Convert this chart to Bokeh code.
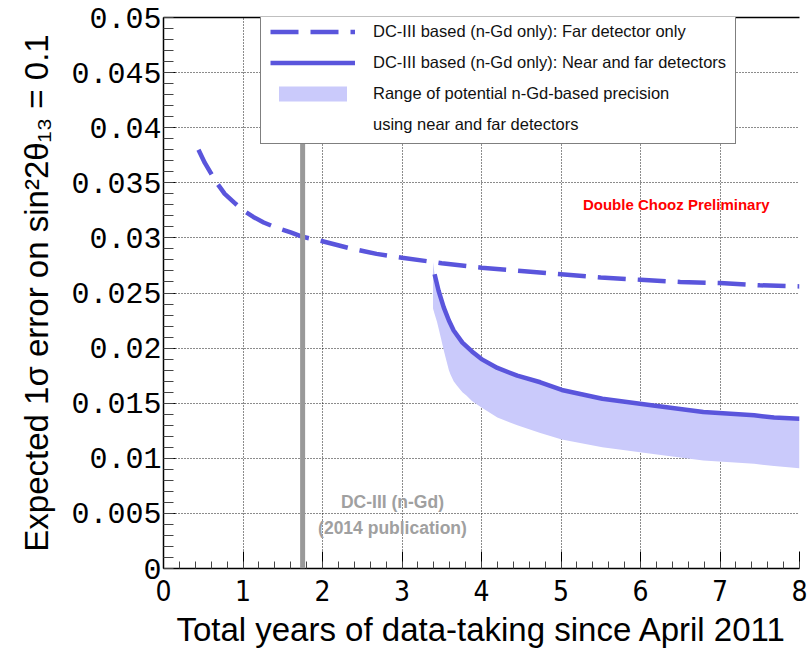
from bokeh.plotting import figure
from bokeh.models import (ColumnDataSource, Span, Legend, LegendItem, LinearAxis,
                          SingleIntervalTicker, FixedTicker, CustomJSTickFormatter, Range1d)
from bokeh.core.properties import value
from bokeh.embed import file_html
from bokeh.resources import INLINE

# ---- data ----
far_years = [0.44, 0.52, 0.61, 0.67, 0.77, 0.89, 1.0, 1.13, 1.26, 1.43, 1.6, 1.75,
             2.0, 2.35, 2.68, 3.0, 3.5, 4.0, 4.5, 5.0, 5.5, 6.0, 6.5, 7.0, 7.5, 8.0]
far_err = [0.0380, 0.0368, 0.0357, 0.0350, 0.0340, 0.0332, 0.0325, 0.0319, 0.0314,
           0.0309, 0.0305, 0.0301, 0.0297, 0.02905, 0.02855, 0.0282, 0.0277, 0.0273,
           0.0270, 0.0267, 0.0264, 0.0262, 0.0260, 0.0259, 0.0257, 0.0256]

nf_years = [3.41, 3.46, 3.525, 3.59, 3.65, 3.76, 3.88, 4.0, 4.2, 4.45, 4.74, 5.01,
            5.52, 6.16, 6.79, 7.43, 7.68, 8.0]
nf_err = [0.0267, 0.0252, 0.0237, 0.0225, 0.0216, 0.0205, 0.0197, 0.0190, 0.0182,
          0.0175, 0.0169, 0.0162, 0.0154, 0.0148, 0.0142, 0.0139, 0.0137, 0.0136]

band_years = [3.39, 3.41, 3.44, 3.46, 3.49, 3.525, 3.55, 3.59, 3.61, 3.65, 3.69, 3.76,
              3.81, 3.88, 4.0, 4.2, 4.45, 4.74, 5.01, 5.52, 6.16, 6.79, 7.43, 7.68, 8.0]
band_hi = [0.0278, 0.0267, 0.0258, 0.0252, 0.0244, 0.0237, 0.0232, 0.0225, 0.0222,
           0.0216, 0.0212, 0.0205, 0.0201, 0.0197, 0.0190, 0.0182, 0.0175, 0.0169,
           0.0162, 0.0154, 0.0148, 0.0142, 0.0139, 0.0137, 0.0136]
band_lo = [0.0236, 0.0231, 0.0224, 0.0218, 0.0209, 0.0198, 0.0191, 0.0180, 0.0176,
           0.0170, 0.0166, 0.0160, 0.0157, 0.0152, 0.0146, 0.0137, 0.0130, 0.0123,
           0.0117, 0.0110, 0.0104, 0.0098, 0.0095, 0.0093, 0.0091]

dc3_year = 1.75
dc3_text = ["DC-III (n-Gd)", "(2014 publication)"]
dc3_text_x = [2.88, 2.88]
dc3_text_y = [0.0060, 0.0037]
prelim_text = ["Double Chooz Preliminary"]
prelim_x = [6.45]
prelim_y = [0.0330]

legend_labels = ["DC-III based (n-Gd only): Far detector only",
                 "DC-III based (n-Gd only): Near and far detectors",
                 "Range of potential n-Gd-based precision",
                 "using near and far detectors"]

BLUE = "#5a55dc"
BAND = "#cacafb"

p = figure(width=808, height=655, output_backend="svg", toolbar_location=None,
           x_range=Range1d(0, 8), y_range=Range1d(0, 0.05),
           min_border_left=163, min_border_right=9, min_border_top=17,
           min_border_bottom=87)
p.outline_line_color = None
p.background_fill_color = "white"
p.border_fill_color = "white"

band = p.varea(x=band_years, y1=band_lo, y2=band_hi, fill_color=BAND)
far = p.line(far_years, far_err, line_color=BLUE, line_width=4.5, line_dash="28 12")
nf = p.line(nf_years, nf_err, line_color=BLUE, line_width=4.5)
dummy = p.line([], [], line_alpha=0)

span = Span(location=dc3_year, dimension="height", line_color="#999999", line_width=5)
p.add_layout(span)

src1 = ColumnDataSource(dict(x=dc3_text_x, y=dc3_text_y, t=dc3_text))
p.text(x="x", y="y", text="t", source=src1, text_align="center", text_baseline="middle",
       text_color="#a0a0a0", text_font=value("Liberation Sans"), text_font_style="bold",
       text_font_size="17.5px")
src2 = ColumnDataSource(dict(x=prelim_x, y=prelim_y, t=prelim_text))
p.text(x="x", y="y", text="t", source=src2, text_align="center", text_baseline="middle",
       text_color="#ff0000", text_font=value("Liberation Sans"), text_font_style="bold",
       text_font_size="15px")

# axes
xax = p.xaxis[0]
yax = p.yaxis[0]
xax.ticker = SingleIntervalTicker(interval=1, num_minor_ticks=5)
yax.ticker = SingleIntervalTicker(interval=0.005, num_minor_ticks=5)
yax.formatter = CustomJSTickFormatter(code="""
var s = tick.toFixed(3).replace(/0+$/, '').replace(/\\.$/, '');
return s;""")
for ax in (xax, yax):
    ax.axis_line_color = "black"
    ax.axis_line_width = 1.5
    ax.major_tick_out = 0
    ax.minor_tick_out = 0
    ax.major_tick_line_color = "black"
    ax.minor_tick_line_color = "#444444"
    ax.axis_label_text_font = "Liberation Sans"
    ax.axis_label_text_font_style = "normal"
    ax.axis_label_text_font_size = "33px"
    ax.axis_label_text_color = "black"
    ax.major_label_text_color = "black"
xax.major_tick_in = 17
xax.minor_tick_in = 7
yax.major_tick_in = 12
yax.minor_tick_in = 10
xax.major_label_text_font = "Liberation Sans Narrow, DejaVu Sans Condensed, sans-serif"
xax.major_label_text_font_size = "28px"
xax.major_label_standoff = 11
yax.major_label_text_font = "Liberation Mono"
yax.major_label_text_font_size = "30px"
yax.major_label_standoff = 2
xax.axis_label = "Total years of data-taking since April 2011"
xax.axis_label_standoff = 7
yax.axis_label = "Expected 1\u03c3 error on sin\u00b22\u03b8\u2081\u2083 = 0.1"
yax.axis_label_standoff = 13

top = LinearAxis(ticker=FixedTicker(ticks=[]),
                 major_tick_in=0, major_tick_out=0, minor_tick_in=0, minor_tick_out=0,
                 axis_line_color="black", axis_line_width=1.5)
p.add_layout(top, "above")

for g in p.grid:
    g.grid_line_color = "black"
    g.grid_line_dash = "1 2"
    g.grid_line_width = 1
    g.grid_line_alpha = 0.9

legend = Legend(items=[LegendItem(label=legend_labels[0], renderers=[far]),
                       LegendItem(label=legend_labels[1], renderers=[nf]),
                       LegendItem(label=legend_labels[2], renderers=[band]),
                       LegendItem(label=legend_labels[3], renderers=[dummy])],
                location=(97, 424))
legend.label_text_font = "Liberation Sans"
legend.label_text_font_size = "16.5px"
legend.label_text_color = "#111111"
legend.glyph_width = 85
legend.glyph_height = 19
legend.label_height = 19
legend.label_standoff = 18
legend.spacing = 12
legend.padding = 9
legend.border_line_color = "black"
legend.border_line_width = 1
legend.background_fill_color = "white"
legend.background_fill_alpha = 1
p.add_layout(legend, "center")

open("out.html", "w").write(file_html(p, INLINE))
